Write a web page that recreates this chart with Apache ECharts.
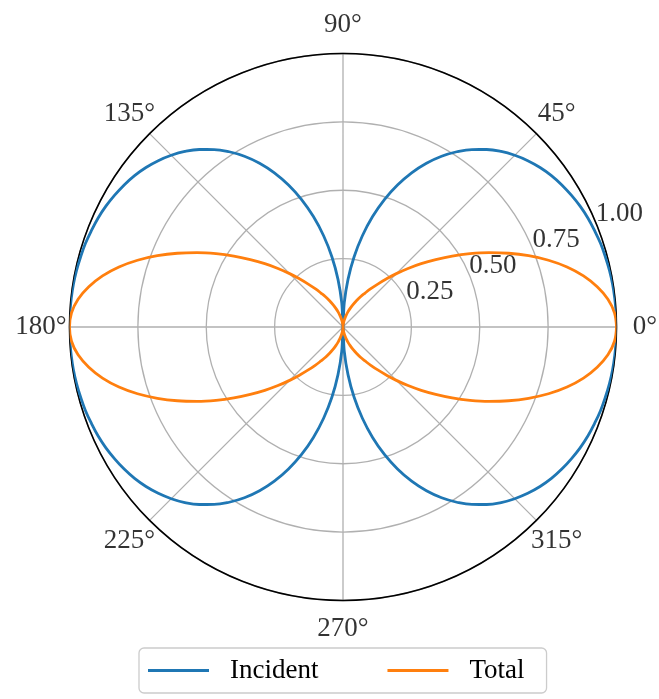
<!DOCTYPE html>
<html>
<head>
<meta charset="utf-8">
<script src="https://cdn.jsdelivr.net/npm/echarts@6/dist/echarts.min.js"></script>
<style>
  html, body { margin: 0; padding: 0; background: #ffffff; }
  #chart { width: 659px; height: 699px; }
</style>
</head>
<body>
<div id="chart"></div>
<script>
// Polar angle (degrees) of every sample
const angles = [
  0, 3, 6, 9, 12, 15, 18, 21, 24, 27, 30, 33, 36, 39, 42, 45, 48, 51, 54, 57, 60, 63, 66, 69, 72, 75, 78, 81, 84, 87, 90,
  93, 96, 99, 102, 105, 108, 111, 114, 117, 120, 123, 126, 129, 132, 135, 138, 141, 144, 147, 150, 153, 156, 159, 162, 165, 168, 171, 174, 177, 180,
  183, 186, 189, 192, 195, 198, 201, 204, 207, 210, 213, 216, 219, 222, 225, 228, 231, 234, 237, 240, 243, 246, 249, 252, 255, 258, 261, 264, 267, 270,
  273, 276, 279, 282, 285, 288, 291, 294, 297, 300, 303, 306, 309, 312, 315, 318, 321, 324, 327, 330, 333, 336, 339, 342, 345, 348, 351, 354, 357, 360
];

// Normalised incident pattern
const incident = [
  1.000, 1.000, 0.999, 0.998, 0.996, 0.993, 0.990, 0.985, 0.980, 0.973, 0.964, 0.954, 0.942, 0.927, 0.909, 0.888, 0.864, 0.835, 0.802, 0.764, 0.721, 0.672, 0.617, 0.556, 0.490, 0.418, 0.341, 0.260, 0.175, 0.088, 0.000,
  0.088, 0.175, 0.260, 0.341, 0.418, 0.490, 0.556, 0.617, 0.672, 0.721, 0.764, 0.802, 0.835, 0.864, 0.888, 0.909, 0.927, 0.942, 0.954, 0.964, 0.973, 0.980, 0.985, 0.990, 0.993, 0.996, 0.998, 0.999, 1.000, 1.000,
  1.000, 0.999, 0.998, 0.996, 0.993, 0.990, 0.985, 0.980, 0.973, 0.964, 0.954, 0.942, 0.927, 0.909, 0.888, 0.864, 0.835, 0.802, 0.764, 0.721, 0.672, 0.617, 0.556, 0.490, 0.418, 0.341, 0.260, 0.175, 0.088, 0.000,
  0.088, 0.175, 0.260, 0.341, 0.418, 0.490, 0.556, 0.617, 0.672, 0.721, 0.764, 0.802, 0.835, 0.864, 0.888, 0.909, 0.927, 0.942, 0.954, 0.964, 0.973, 0.980, 0.985, 0.990, 0.993, 0.996, 0.998, 0.999, 1.000, 1.000
];

// Normalised total pattern
const total = [
  1.000, 0.994, 0.974, 0.941, 0.899, 0.848, 0.790, 0.727, 0.663, 0.599, 0.536, 0.476, 0.419, 0.368, 0.320, 0.276, 0.236, 0.202, 0.173, 0.148, 0.128, 0.108, 0.090, 0.073, 0.058, 0.044, 0.032, 0.021, 0.012, 0.004, 0.000,
  0.004, 0.012, 0.021, 0.032, 0.044, 0.058, 0.073, 0.090, 0.108, 0.128, 0.148, 0.173, 0.202, 0.236, 0.276, 0.320, 0.368, 0.419, 0.476, 0.536, 0.599, 0.663, 0.727, 0.790, 0.848, 0.899, 0.941, 0.974, 0.994, 1.000,
  0.994, 0.974, 0.941, 0.899, 0.848, 0.790, 0.727, 0.663, 0.599, 0.536, 0.476, 0.419, 0.368, 0.320, 0.276, 0.236, 0.202, 0.173, 0.148, 0.128, 0.108, 0.090, 0.073, 0.058, 0.044, 0.032, 0.021, 0.012, 0.004, 0.000,
  0.004, 0.012, 0.021, 0.032, 0.044, 0.058, 0.073, 0.090, 0.108, 0.128, 0.148, 0.173, 0.202, 0.236, 0.276, 0.320, 0.368, 0.419, 0.476, 0.536, 0.599, 0.663, 0.727, 0.790, 0.848, 0.899, 0.941, 0.974, 0.994, 1.000
];

// Angular tick labels
const angleTicks = [0, 45, 90, 135, 180, 225, 270, 315];
const angleTickLabels = ['0°', '45°', '90°', '135°', '180°', '225°', '270°', '315°'];

// Radial tick labels, written along one ray
const radiusTicks = [0.25, 0.50, 0.75, 1.00];
const radiusTickLabels = ['0.25', '0.50', '0.75', '1.00'];
const radiusLabelAngle = 22.5;

const FONT = '"Liberation Serif", "Times New Roman", serif';
const FONT_SIZE = 27;
const BLUE = '#1f77b4';
const ORANGE = '#ff7f0e';
const GRID = '#b0b0b0';
const CX = 343, CY = 327, R = 273.5, LABEL_R = 302;

const chart = echarts.init(document.getElementById('chart'), null, { renderer: 'canvas' });

const option = {
  animation: false,
  backgroundColor: '#ffffff',
  polar: [
    { center: [CX, CY], radius: R },
    { center: [CX, CY], radius: LABEL_R }
  ],
  angleAxis: [
    {
      polarIndex: 0, type: 'value', min: 0, max: 360, interval: 45,
      startAngle: 0, clockwise: false,
      axisLine: { show: true, lineStyle: { color: '#000000', width: 1.6 } },
      axisTick: { show: false },
      axisLabel: { show: false },
      splitLine: { show: true, lineStyle: { color: GRID, width: 1.3 } }
    },
    {
      polarIndex: 1, type: 'value', min: 0, max: 360, interval: 45,
      startAngle: 0, clockwise: false, show: false
    }
  ],
  radiusAxis: [
    {
      polarIndex: 0, type: 'value', min: 0, max: 1, interval: 0.25,
      axisLine: { show: false }, axisTick: { show: false }, axisLabel: { show: false },
      splitLine: { show: true, lineStyle: { color: GRID, width: 1.3 } }
    },
    { polarIndex: 1, type: 'value', min: 0, max: 1, show: false }
  ],
  legend: {
    data: ['Incident', 'Total'],
    left: 139, top: 648,
    orient: 'horizontal',
    icon: 'rect', itemWidth: 61, itemHeight: 3,
    itemGap: 69,
    padding: [9, 22, 9, 9],
    borderColor: '#cccccc', borderWidth: 1.3, borderRadius: 5,
    backgroundColor: '#ffffff',
    textStyle: { fontFamily: FONT, fontSize: FONT_SIZE, color: '#000000', padding: [0, 0, 0, 16] }
  },
  series: [
    {
      name: 'Incident', type: 'line', coordinateSystem: 'polar', polarIndex: 0,
      data: angles.map((a, i) => [incident[i], a]),
      smooth: 0.4, showSymbol: false, clip: false,
      color: BLUE,
      lineStyle: { color: BLUE, width: 2.8, join: 'round', cap: 'round' },
      z: 3
    },
    {
      name: 'Total', type: 'line', coordinateSystem: 'polar', polarIndex: 0,
      data: angles.map((a, i) => [total[i], a]),
      smooth: 0.4, showSymbol: false, clip: false,
      color: ORANGE,
      lineStyle: { color: ORANGE, width: 2.8, join: 'round', cap: 'round' },
      z: 3
    },
    {
      name: 'angle labels', type: 'scatter', coordinateSystem: 'polar', polarIndex: 1,
      data: angleTicks.map(a => [1, a]),
      symbolSize: 0, clip: false, silent: true,
      label: {
        show: true, position: 'inside', align: 'center', verticalAlign: 'middle',
        formatter: p => angleTickLabels[p.dataIndex],
        fontFamily: FONT, fontSize: FONT_SIZE, color: '#000000'
      }
    },
    {
      name: 'radius labels', type: 'scatter', coordinateSystem: 'polar', polarIndex: 0,
      data: radiusTicks.map(r => [r, radiusLabelAngle]),
      symbolSize: 0, clip: false, silent: true,
      label: {
        show: true, position: [0, 0], align: 'left', verticalAlign: 'bottom',
        offset: [0, 5],
        formatter: p => radiusTickLabels[p.dataIndex],
        fontFamily: FONT, fontSize: FONT_SIZE, color: '#000000'
      },
      z: 4
    }
  ]
};

chart.setOption(option);
</script>
</body>
</html>
